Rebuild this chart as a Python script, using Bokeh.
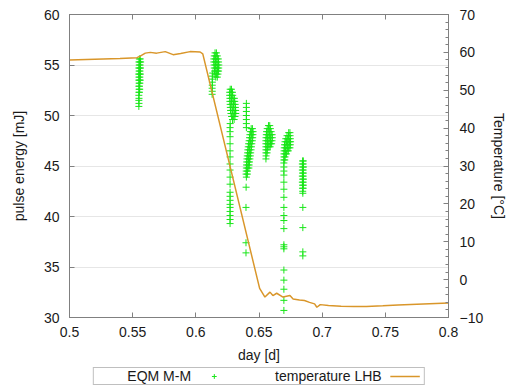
from bokeh.plotting import figure
from bokeh.layouts import column
from bokeh.models import (Range1d, LinearAxis, FixedTicker, SingleIntervalTicker,
                          Legend, LegendItem)
from bokeh.core.properties import value
from bokeh.embed import file_html
from bokeh.resources import INLINE

# ---------------- data ----------------
x_ticks = [0.5, 0.55, 0.6, 0.65, 0.7, 0.75, 0.8]
x_tick_labels = ["0.5", "0.55", "0.6", "0.65", "0.7", "0.75", "0.8"]
left_ticks = [30, 35, 40, 45, 50, 55, 60]

# pulse energy clusters: rows of (energy [mJ], [days])
c1_rows = [
    (55.6, [0.5553, 0.5560]), (55.3, [0.5550, 0.5557, 0.5563]), (55.0, [0.5552, 0.5559]),
    (54.7, [0.5549, 0.5556, 0.5562]), (54.4, [0.5551, 0.5558]), (54.1, [0.5548, 0.5555, 0.5561]),
    (53.8, [0.5550, 0.5557]), (53.5, [0.5549, 0.5555, 0.5560]), (53.2, [0.5551, 0.5557]),
    (52.9, [0.5549, 0.5554]), (52.6, [0.5551, 0.5556]), (52.3, [0.5550, 0.5553]),
    (52.0, [0.5549]), (51.7, [0.5550]), (51.5, [0.5549]), (51.2, [0.5550]), (50.9, [0.5549]),
]
c2_rows = [
    (56.2, [0.6152, 0.6163]), (55.9, [0.6146, 0.6158, 0.6170]),
    (55.6, [0.6143, 0.6155, 0.6167, 0.6178]), (55.3, [0.6143, 0.6155, 0.6167, 0.6180]),
    (55.0, [0.6145, 0.6157, 0.6169, 0.6182]), (54.7, [0.6146, 0.6158, 0.6170, 0.6181]),
    (54.4, [0.6148, 0.6160, 0.6172, 0.6180]), (54.1, [0.6152, 0.6164, 0.6175]),
    (53.8, [0.6158, 0.6170]),
    (54.2, [0.6134]), (53.9, [0.6131]), (53.6, [0.6130]), (53.3, [0.6131]),
    (53.0, [0.6130]), (52.7, [0.6129]), (52.4, [0.6130]), (52.1, [0.6129]),
]
c3_rows = [
    (52.6, [0.6272, 0.6282]), (52.3, [0.6268, 0.6279, 0.6290]), (52.0, [0.6268, 0.6280, 0.6292]),
    (51.7, [0.6270, 0.6282, 0.6294, 0.6305]), (51.4, [0.6270, 0.6283, 0.6296, 0.6308]),
    (51.1, [0.6272, 0.6285, 0.6298, 0.6311]), (50.8, [0.6273, 0.6287, 0.6300, 0.6313]),
    (50.5, [0.6275, 0.6289, 0.6302, 0.6315]), (50.2, [0.6278, 0.6292, 0.6305, 0.6316]),
    (49.9, [0.6283, 0.6297, 0.6310]), (49.6, [0.6290, 0.6303]),
    (49.2, [0.6272]), (48.8, [0.6271]), (48.4, [0.6271]), (47.9, [0.6271]), (47.2, [0.6271]),
    (46.5, [0.6271]), (45.9, [0.6271]), (45.2, [0.6271]), (44.6, [0.6271]), (43.9, [0.6271]),
    (43.2, [0.6271]), (42.4, [0.6271]), (42.0, [0.6271]), (41.6, [0.6271]), (41.2, [0.6271]),
    (40.9, [0.6271]), (40.5, [0.6271]), (40.1, [0.6271]), (39.7, [0.6271]), (39.3, [0.6271]),
]
c4_rows = [
    (51.2, [0.6400]), (50.8, [0.6400]), (50.4, [0.6400]), (50.0, [0.6400]), (49.6, [0.6400]),
    (49.2, [0.6400]), (48.8, [0.6400]),
    (48.7, [0.6438, 0.6448]), (48.4, [0.6432, 0.6443, 0.6453]), (48.1, [0.6428, 0.6440, 0.6452]),
    (47.8, [0.6425, 0.6437, 0.6450]), (47.5, [0.6422, 0.6434, 0.6447]),
    (47.2, [0.6418, 0.6430, 0.6443]), (46.9, [0.6415, 0.6427, 0.6440]),
    (46.6, [0.6412, 0.6424, 0.6437]), (46.3, [0.6410, 0.6422, 0.6434]),
    (46.0, [0.6407, 0.6419, 0.6431]), (45.7, [0.6405, 0.6417, 0.6428]),
    (45.4, [0.6403, 0.6415, 0.6425]), (45.1, [0.6401, 0.6413, 0.6422]),
    (44.8, [0.6400, 0.6411, 0.6420]), (44.5, [0.6399, 0.6409]), (44.2, [0.6398, 0.6408]),
    (43.9, [0.6400]), (42.9, [0.6398]), (40.9, [0.6397]), (37.4, [0.6397]), (36.4, [0.6397]),
]
c5_rows = [
    (49.0, [0.6575, 0.6585]), (48.7, [0.6565, 0.6577, 0.6590]),
    (48.4, [0.6560, 0.6572, 0.6584, 0.6596]), (48.1, [0.6558, 0.6570, 0.6582, 0.6594, 0.6604]),
    (47.8, [0.6556, 0.6568, 0.6580, 0.6592, 0.6605]), (47.5, [0.6555, 0.6567, 0.6579, 0.6591, 0.6603]),
    (47.2, [0.6555, 0.6566, 0.6578, 0.6590, 0.6600]), (46.9, [0.6555, 0.6566, 0.6578, 0.6588]),
    (46.6, [0.6555, 0.6565]), (46.3, [0.6555, 0.6564]), (46.0, [0.6556]), (45.7, [0.6555]),
]
c6_rows = [
    (48.3, [0.6735, 0.6745]), (48.0, [0.6722, 0.6734, 0.6746]),
    (47.7, [0.6712, 0.6724, 0.6736, 0.6748]), (47.4, [0.6706, 0.6718, 0.6730, 0.6742, 0.6750]),
    (47.1, [0.6702, 0.6714, 0.6726, 0.6738, 0.6748]), (46.8, [0.6700, 0.6712, 0.6724, 0.6736, 0.6745]),
    (46.5, [0.6699, 0.6710, 0.6722, 0.6732]), (46.2, [0.6698, 0.6708, 0.6718]),
    (45.9, [0.6698, 0.6706]), (45.6, [0.6697, 0.6704]), (45.3, [0.6697]),
    (44.9, [0.6697]), (44.5, [0.6697]), (44.1, [0.6697]), (43.4, [0.6697]), (42.7, [0.6697]),
    (41.9, [0.6697]), (40.9, [0.6697]), (40.1, [0.6697]), (39.6, [0.6697]), (38.8, [0.6697]),
    (37.2, [0.6697]), (37.0, [0.6697]), (36.8, [0.6697]), (34.7, [0.6697]), (33.7, [0.6697]),
    (32.8, [0.6697]), (31.7, [0.6697]), (30.7, [0.6697]),
]
c7_rows = [
    (45.5, [0.6845, 0.6851]), (45.2, [0.6843, 0.6850]), (44.9, [0.6845, 0.6852]),
    (44.6, [0.6843, 0.6850]), (44.3, [0.6845, 0.6851]), (44.0, [0.6843, 0.6850]),
    (43.7, [0.6845, 0.6852]), (43.4, [0.6843, 0.6850]), (43.1, [0.6845, 0.6851]),
    (42.8, [0.6844, 0.6850]), (42.5, [0.6846]), (42.3, [0.6847]),
    (40.9, [0.6847]), (38.9, [0.6847]), (36.5, [0.6847]), (36.1, [0.6847]),
]

# temperature LHB [°C]
temp_day = [0.500, 0.520, 0.540, 0.5534, 0.556, 0.560, 0.564, 0.569, 0.5758, 0.582, 0.588,
            0.5955, 0.6034, 0.6055, 0.6505, 0.6547, 0.6587, 0.661, 0.664, 0.669, 0.6745,
            0.677, 0.682, 0.686, 0.690, 0.694, 0.6958, 0.6985, 0.705, 0.715, 0.725, 0.735,
            0.748, 0.760, 0.775, 0.790, 0.800]
temp_c = [58.0, 58.2, 58.4, 58.6, 59.0, 59.8, 60.0, 59.8, 60.2, 59.4, 59.7,
          60.2, 60.1, 59.6, -2.3, -4.6, -3.3, -4.2, -3.6, -4.6, -4.2,
          -5.1, -5.4, -5.5, -6.0, -6.4, -7.3, -6.6, -6.8, -7.0, -7.1, -7.1,
          -6.9, -6.7, -6.5, -6.3, -6.2]

eqm_day, eqm_mj = [], []
for rows in (c1_rows, c2_rows, c3_rows, c4_rows, c5_rows, c6_rows, c7_rows):
    for mj, days in rows:
        for d in days:
            eqm_day.append(d)
            eqm_mj.append(mj)

# ---------------- styling ----------------
FONT = "Liberation Sans"
FS = "14px"
AX = "#808080"
TXT = "#1a1a1a"
GREEN = "#19e619"
ORANGE = "#d9962a"

p = figure(width=510, height=367, output_backend="svg", toolbar_location=None,
           x_range=Range1d(0.5, 0.8), y_range=Range1d(30, 60),
           min_border_left=69, min_border_right=61, min_border_top=14, min_border_bottom=50,
           background_fill_color="white", border_fill_color="white")
p.outline_line_color = AX
p.extra_y_ranges = {"temp": Range1d(-10, 70)}

sc = p.scatter(eqm_day, eqm_mj, marker="cross", size=7, line_color=GREEN, line_width=1)
ln = p.line(temp_day, temp_c, y_range_name="temp", line_color=ORANGE, line_width=1.5)

def style_axis(ax):
    ax.axis_line_color = AX
    ax.major_tick_line_color = AX
    ax.minor_tick_line_color = AX
    ax.major_tick_in = 5
    ax.major_tick_out = 0
    ax.minor_tick_in = 3
    ax.minor_tick_out = 0
    ax.major_label_text_font = FONT
    ax.major_label_text_font_size = FS
    ax.major_label_text_color = TXT
    ax.axis_label_text_font = FONT
    ax.axis_label_text_font_size = FS
    ax.axis_label_text_font_style = "normal"
    ax.axis_label_text_color = TXT

xa = p.xaxis[0]
style_axis(xa)
xa.ticker = FixedTicker(ticks=x_ticks, minor_ticks=[])
xa.major_label_overrides = dict(zip(x_ticks, x_tick_labels))
xa.axis_label = "day [d]"
xa.major_label_standoff = 9
xa.axis_label_standoff = 7

ya = p.yaxis[0]
style_axis(ya)
ya.ticker = FixedTicker(ticks=left_ticks, minor_ticks=[])
ya.axis_label = "pulse energy [mJ]"
ya.major_label_standoff = 10
ya.axis_label_standoff = 14

top = LinearAxis(ticker=FixedTicker(ticks=x_ticks, minor_ticks=[]))
style_axis(top)
top.major_label_text_alpha = 0
top.major_label_text_font_size = "1px"
top.major_label_standoff = 0
p.add_layout(top, "above")

right = LinearAxis(y_range_name="temp",
                   ticker=SingleIntervalTicker(interval=10, num_minor_ticks=5))
style_axis(right)
right.axis_label = "Temperature [°C]"
right.major_label_standoff = 11
right.axis_label_standoff = 5
p.add_layout(right, "right")

p.xgrid.visible = False
p.ygrid[0].ticker = ya.ticker
p.ygrid[0].grid_line_color = "#e6e6e6"

# ---------------- key (gnuplot style: text, then sample) ----------------
# The key strip shows the same series, out of its own (empty) view window,
# so only their legend samples are drawn.
k = figure(width=510, height=22, output_backend="svg", toolbar_location=None,
           x_axis_type=None, y_axis_type=None, min_border=0,
           x_range=Range1d(0.5, 0.8), y_range=Range1d(100, 101),
           background_fill_color="white", border_fill_color="white")
k.outline_line_color = None
k.grid.visible = False
ksc = k.scatter(eqm_day, eqm_mj, marker="cross", size=7, line_color=GREEN, line_width=1)
kln = k.line(temp_day, temp_c, line_color=ORANGE, line_width=1.5)

legend = Legend(items=[
    LegendItem(label=value("EQM M-M"), renderers=[]),
    LegendItem(label=value(""), renderers=[ksc]),
    LegendItem(label=value("temperature LHB"), renderers=[]),
    LegendItem(label=value(""), renderers=[kln]),
], orientation="horizontal", location="top_center")
legend.label_text_font = FONT
legend.label_text_font_size = FS
legend.label_text_color = TXT
legend.glyph_width = 30
legend.glyph_height = 12
legend.label_height = 12
legend.label_width = 0
legend.label_standoff = 4
legend.spacing = 8
legend.padding = 0
legend.margin = 0
legend.border_line_color = AX
legend.border_line_width = 1
legend.background_fill_color = "white"
legend.background_fill_alpha = 1
k.add_layout(legend, "center")

layout = column(p, k, spacing=0)
open("out.html", "w").write(file_html(layout, INLINE))
